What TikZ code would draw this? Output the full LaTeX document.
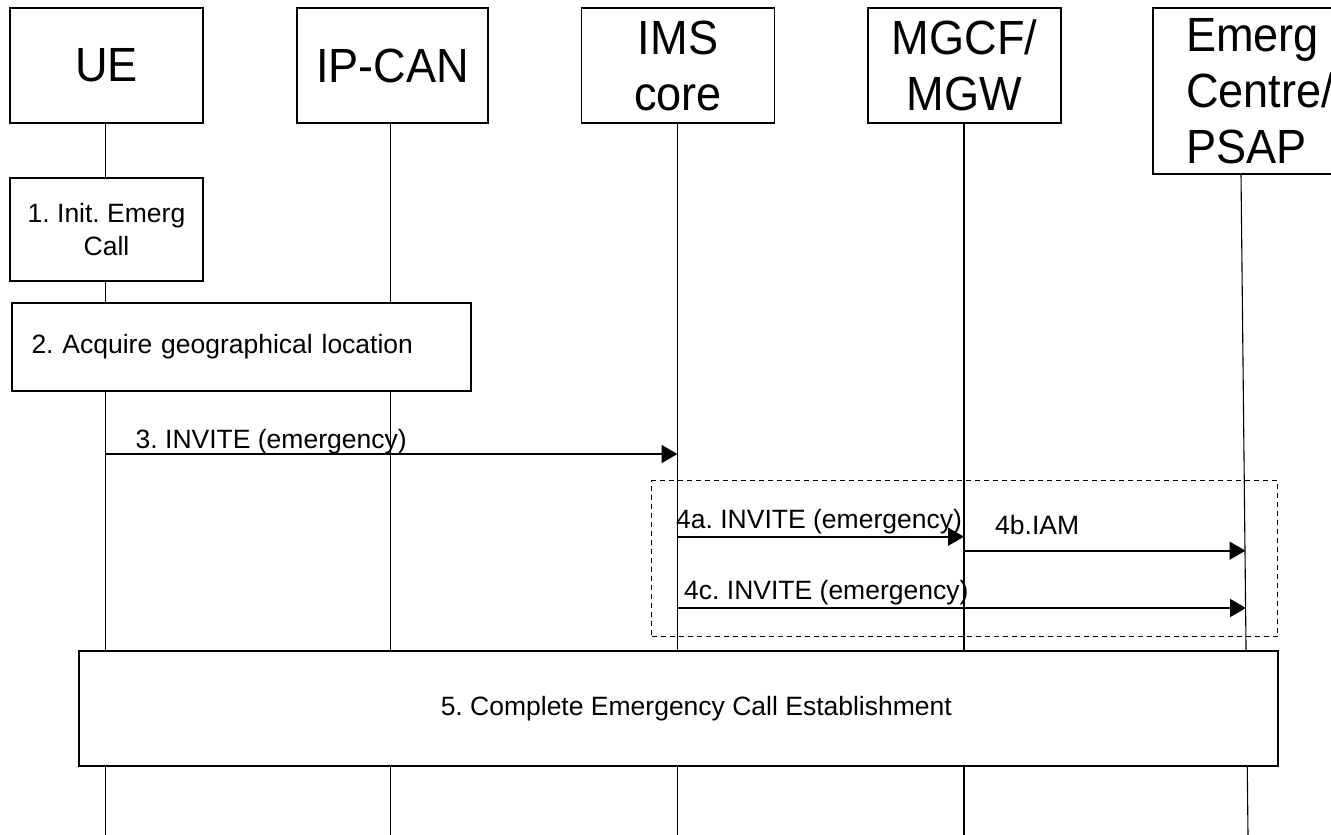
\documentclass[tikz,border=0pt]{standalone}
\usepackage{fontspec}
\setmainfont{Liberation Sans}
\newfontfamily\hdrfont[FakeStretch=0.94]{Liberation Sans}
\usetikzlibrary{arrows.meta}
\frenchspacing

\begin{document}
\begin{tikzpicture}[x=1pt,y=-1pt,
  hdr/.style={draw, line width=1.4pt, fill=white, inner sep=0pt,
    font=\hdrfont\fontsize{48}{56}\selectfont, align=center},
  stepbox/.style={draw, line width=1.4pt, fill=white, inner sep=0pt,
    font=\fontsize{26.5}{33}\selectfont, align=center},
  lifeline/.style={line width=1.1pt},
  msg/.style={line width=1.8pt, -{Triangle[length=16pt,width=18pt]}},
  msglabel/.style={font=\fontsize{26.5}{33}\selectfont, inner sep=0pt, anchor=base west},
  group/.style={draw, line width=1.4pt, dash pattern=on 5pt off 4pt, inner sep=0pt}
]
\useasboundingbox (0,0) rectangle (1331,835);
\clip (0,0) rectangle (1331,835);
\fill[white] (0,0) rectangle (1331,835);

% lifeline ends at the bottom edge
\coordinate (ueEnd)   at (105.7,835);
\coordinate (ipEnd)   at (390.5,835);
\coordinate (imsEnd)  at (677.5,835);
\coordinate (mgcfEnd) at (964,835);
\coordinate (psapTop) at (1241,174);
\coordinate (psapEnd) at (1248,835);

% lifelines (drawn first, boxes cover them)
\draw[lifeline] (105.7,123) -- (ueEnd);
\draw[lifeline] (390.5,123) -- (ipEnd);
\draw[lifeline] (677.5,123) -- (imsEnd);
\draw[lifeline] (964,123) -- (mgcfEnd);
\draw[lifeline] (psapTop) -- (psapEnd);

% entity headers
\node[hdr, minimum width=193pt, minimum height=115pt] (ue)   at (106.5,65.5) {UE};
\node[hdr, minimum width=191pt, minimum height=115pt] (ipcan) at (392.5,65.5) {IP-CAN};
\node[hdr, minimum width=193pt, minimum height=115pt] (ims)  at (678,65.5) {IMS\\core};
\node[hdr, minimum width=214pt, minimum height=166pt, align=left] (psap) at (1260,91) {Emerg\\Centre/\\PSAP};
\node[hdr, minimum width=193pt, minimum height=115pt] (mgcf) at (964.5,65.5) {MGCF/\\MGW};

% procedure steps
\node[stepbox, minimum width=193pt, minimum height=103pt] (s1) at (106.5,229.5) {1. Init. Emerg\\Call};
\node[stepbox, minimum width=459pt, minimum height=88pt, inner xsep=19.5pt,
      text width=420pt, align=left] (s2) at (241.5,347) {2. Acquire geographical location};

% message 3
\coordinate (m3s) at (105.7,454);
\coordinate (m3e) at (677.5,454);
\draw[msg] (m3s) -- (m3e);
\node[msglabel] (l3) at (135.5,448) {3. INVITE (emergency)};

% alternative routing group
\node[group, minimum width=626pt, minimum height=156pt] (grp) at (964.5,558.5) {};

\coordinate (m4as) at (677.5,536.7);
\coordinate (m4ae) at (964,536.7);
\draw[msg] (m4as) -- (m4ae);
\node[msglabel] (l4a) at (676,528) {4a. INVITE (emergency)};

\coordinate (m4bs) at (964,550.7);
\coordinate (m4be) at (1245.5,550.7);
\draw[msg] (m4bs) -- (m4be);
\node[msglabel] (l4b) at (995,534) {4b.IAM};

\coordinate (m4cs) at (677.5,608);
\coordinate (m4ce) at (1246,608);
\draw[msg] (m4cs) -- (m4ce);
\node[msglabel] (l4c) at (684,599) {4c. INVITE (emergency)};

% step 5
\node[stepbox, line width=2.2pt, minimum width=1198.6pt, minimum height=115pt,
      label={[font=\fontsize{26.5}{33}\selectfont, xshift=18pt]center:5. Complete Emergency Call Establishment}]
      (s5) at (678.3,708.2) {};
\end{tikzpicture}
\end{document}
